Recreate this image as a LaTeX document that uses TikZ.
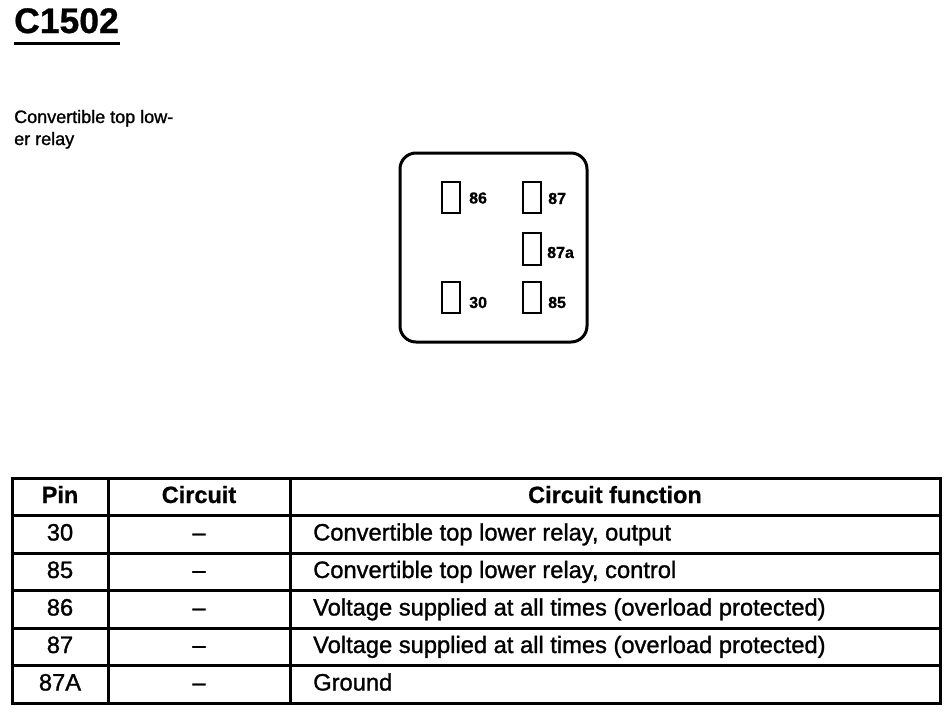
\documentclass[tikz,border=0pt]{standalone}
\usepackage{fontspec}
\setmainfont{Liberation Sans}
\newfontfamily\heavyreg{Liberation Sans}[FakeBold=1.2]
\newfontfamily\heavybold{Liberation Sans Bold}[FakeBold=0.8]
\begin{document}
\begin{tikzpicture}[x=1pt,y=-1pt,
  tbl/.style={line width=3pt},
  pinrect/.style={draw,line width=2pt},
  pinlbl/.style={anchor=base west,inner sep=0pt,font=\fontsize{16}{18}\selectfont\heavybold},
  cell/.style={anchor=base,inner sep=0pt,font=\fontsize{23.7}{26}\selectfont\heavyreg},
  hcell/.style={cell,font=\fontsize{23.5}{26}\selectfont\heavybold},
  fcell/.style={cell,anchor=base west}]
\useasboundingbox (0,0) rectangle (951,715);
% title
\node[anchor=base west,inner sep=0pt,font=\fontsize{35.5}{38}\selectfont\heavybold] (title) at (14,33) {C1502};
\draw[line width=3pt] (14,43.5) -- (120,43.5);
\node[anchor=base west,inner sep=0pt,font=\fontsize{18}{20}\selectfont\heavyreg] (desc) at (14,123) {Convertible top low-};
\node[anchor=base west,inner sep=0pt,font=\fontsize{18}{20}\selectfont\heavyreg] (desc2) at (14,145) {er relay};
% connector
\draw[line width=3pt,rounded corners=16pt] (400,153) rectangle (587,342);
\draw[pinrect] (442,182) rectangle (460,213);
\draw[pinrect] (523,182) rectangle (541,213);
\draw[pinrect] (523,233) rectangle (541,265);
\draw[pinrect] (442,282) rectangle (460,313);
\draw[pinrect] (523,282) rectangle (541,313);
\node[pinlbl] (l86) at (469,203.5) {86};
\node[pinlbl] (l87) at (548,204) {87};
\node[pinlbl] (l87a) at (547,258) {87a};
\node[pinlbl] (l30) at (469,308) {30};
\node[pinlbl] (l85) at (548,308) {85};
% table
\draw[tbl] (12,478) rectangle (940,703);
\foreach \y in {515.5,553,590.5,628,665.5} \draw[tbl] (12,\y) -- (940,\y);
\draw[tbl] (108,478) -- (108,703);
\draw[tbl] (290,478) -- (290,703);
\node[hcell] (hpin) at (60,503) {Pin};
\node[hcell] (hcir) at (199,503) {Circuit};
\node[hcell] (hfun) at (615,503) {Circuit function};
\node[cell] (p1) at (60,540.5) {30};
\node[cell] (c1) at (199,540.5) {–};
\node[fcell] (f1) at (313,540.5) {Convertible top lower relay, output};
\node[cell] (p2) at (60,578) {85};
\node[cell] (c2) at (199,578) {–};
\node[fcell] (f2) at (313,578) {Convertible top lower relay, control};
\node[cell] (p3) at (60,615.5) {86};
\node[cell] (c3) at (199,615.5) {–};
\node[fcell] (f3) at (313,615.5) {Voltage supplied at all times (overload protected)};
\node[cell] (p4) at (60,653) {87};
\node[cell] (c4) at (199,653) {–};
\node[fcell] (f4) at (313,653) {Voltage supplied at all times (overload protected)};
\node[cell] (p5) at (60,690.5) {87A};
\node[cell] (c5) at (199,690.5) {–};
\node[fcell] (f5) at (313,690.5) {Ground};
\end{tikzpicture}
\end{document}
